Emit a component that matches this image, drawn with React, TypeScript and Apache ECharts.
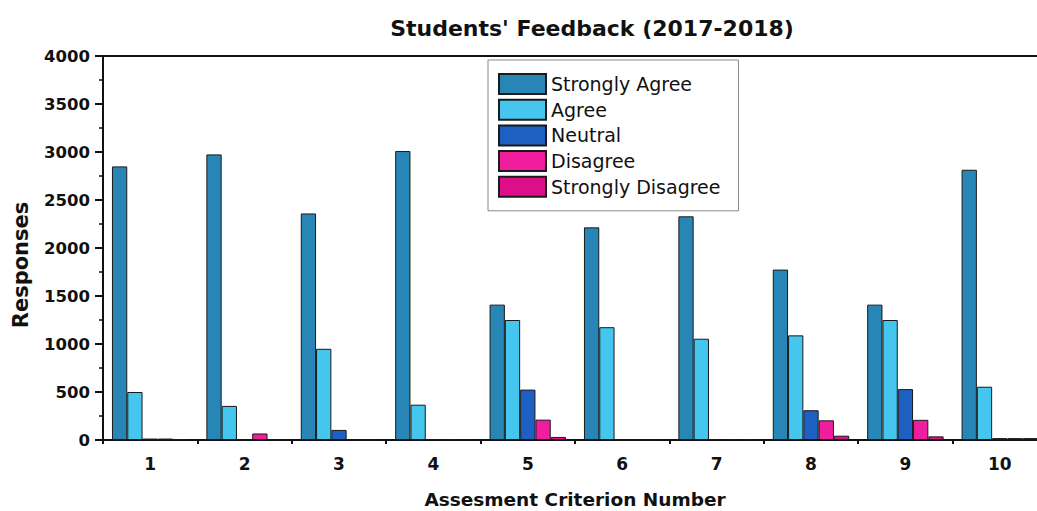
import React, { useEffect, useRef } from "react";
import * as echarts from "echarts";

const categories = ["1", "2", "3", "4", "5", "6", "7", "8", "9", "10"];
const stronglyAgree = [2850, 2975, 2360, 3010, 1410, 2215, 2330, 1775, 1410, 2815];
const agree = [500, 355, 950, 368, 1250, 1175, 1055, 1090, 1250, 555];
const neutral = [15, 5, 105, 10, 525, 5, 10, 310, 530, 20];
const disagree = [15, 68, 5, 8, 212, 5, 10, 205, 210, 20];
const stronglyDisagree = [10, 5, 5, 8, 32, 5, 8, 45, 38, 20];

const seriesDefs = [
  { name: "Strongly Agree", data: stronglyAgree, color: "#2786b6" },
  { name: "Agree", data: agree, color: "#44c6ee" },
  { name: "Neutral", data: neutral, color: "#1d60c2" },
  { name: "Disagree", data: disagree, color: "#f01d9f" },
  { name: "Strongly Disagree", data: stronglyDisagree, color: "#dc0f88" },
];

const FONT = "'DejaVu Sans', 'Liberation Sans', Arial, sans-serif";

export default function App() {
  const ref = useRef<HTMLDivElement>(null);
  useEffect(() => {
    document.body.style.margin = "0";
    document.body.style.overflow = "hidden";
    const chart = echarts.init(ref.current!, undefined, { renderer: "svg" });
    chart.setOption({
      animation: false,
      backgroundColor: "#ffffff",
      title: {
        text: "Students' Feedback (2017-2018)",
        left: 587,
        textAlign: "center",
        top: 12,
        textStyle: { fontFamily: FONT, fontWeight: "bold", fontSize: 22, color: "#111" },
      },
      legend: {
        orient: "vertical",
        left: 488,
        top: 60,
        padding: [13, 18, 13, 10],
        borderColor: "#888",
        borderWidth: 1,
        itemWidth: 47,
        itemHeight: 20,
        itemGap: 3.7,
        icon: "rect",
        textStyle: { fontFamily: FONT, fontSize: 19, lineHeight: 20, color: "#111" },
        data: seriesDefs.map((s) => s.name),
      },
      graphic: [
        {
          type: "text",
          x: 21,
          y: 265,
          rotation: Math.PI / 2,
          style: {
            text: "Responses",
            fontFamily: FONT,
            fontWeight: "bold",
            fontSize: 21,
            fill: "#111",
            align: "center",
            verticalAlign: "middle",
          },
        },
      ],
      grid: {
        left: 103,
        width: 944,
        top: 56,
        bottom: 71,
        containLabel: false,
        outerBoundsMode: "none",
        show: true,
        borderColor: "#111",
        borderWidth: 2,
      },
      xAxis: [
        {
          type: "category",
          data: categories,
          name: "Assesment Criterion Number",
          nameLocation: "middle",
          nameGap: 50,
          nameTextStyle: { fontFamily: FONT, fontWeight: "bold", fontSize: 18.5, color: "#111" },
          axisLine: { lineStyle: { color: "#111", width: 2 } },
          axisTick: { alignWithLabel: true, length: 8, lineStyle: { color: "#111", width: 2 } },
          axisLabel: { fontFamily: FONT, fontWeight: "bold", fontSize: 17, color: "#111", margin: 15 },
        },
        {
          type: "category",
          data: categories,
          position: "bottom",
          axisLine: { show: false },
          axisTick: { show: true, length: 4, lineStyle: { color: "#111", width: 2 } },
          axisLabel: { show: false },
        },
      ],
      yAxis: {
        type: "value",
        min: 0,
        max: 4000,
        interval: 500,
        axisLine: { show: true, lineStyle: { color: "#111", width: 2 } },
        axisTick: { show: true, length: 8, lineStyle: { color: "#111", width: 2 } },
        minorTick: { show: true, splitNumber: 2, length: 4, lineStyle: { color: "#111", width: 1.5 } },
        splitLine: { show: false },
        axisLabel: {
          fontFamily: FONT,
          fontWeight: "bold",
          fontSize: 16.5,
          color: "#111",
          margin: 13,
          formatter: (v: number) => String(v),
        },
      },
      series: seriesDefs.map((s) => ({
        name: s.name,
        type: "bar",
        data: s.data,
        barGap: "0%",
        barCategoryGap: "19%",
        itemStyle: { color: s.color, borderColor: "#1a1a1a", borderWidth: 1 },
      })),
    });
    return () => chart.dispose();
  }, []);
  return <div ref={ref} style={{ width: 1037, height: 511 }} />;
}
